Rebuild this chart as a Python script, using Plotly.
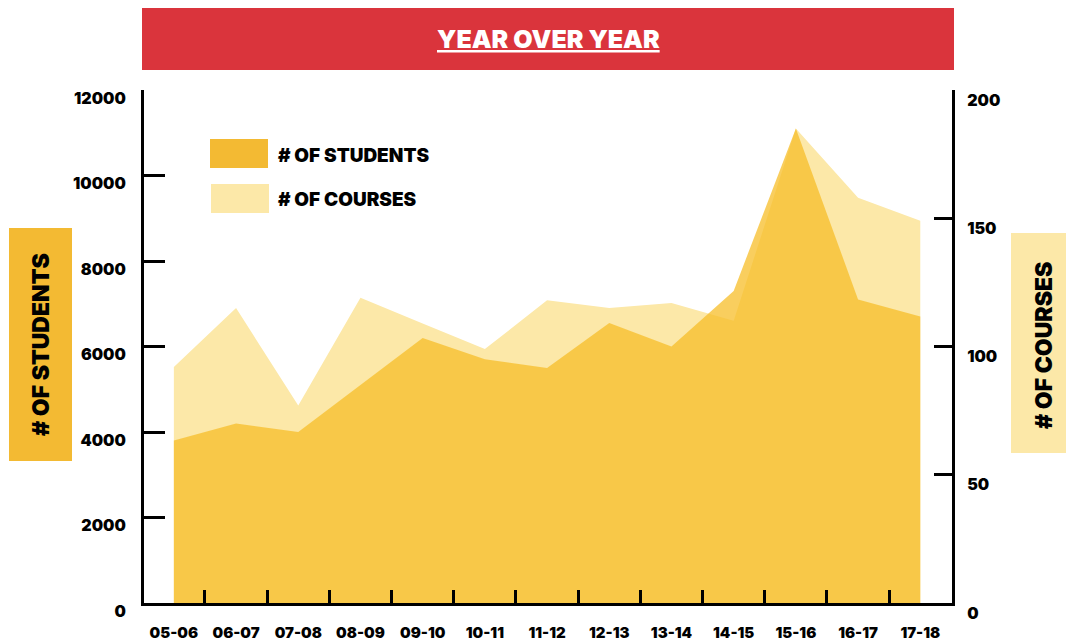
import plotly.graph_objects as go

years = ["05-06", "06-07", "07-08", "08-09", "09-10", "10-11", "11-12",
         "12-13", "13-14", "14-15", "15-16", "16-17", "17-18"]
students = [3800, 4200, 4000, 5100, 6200, 5700, 5500, 6550, 6000, 7300, 11100, 7100, 6700]
courses = [92, 115, 77, 119, 109, 99, 118, 115, 117, 110, 185, 158, 149]

student_tick_vals = [0, 2000, 4000, 6000, 8000, 10000, 12000]
course_tick_vals = [0, 50, 100, 150, 200]

STUD_COLOR = "#F3BA33"
COURSE_COLOR = "#FCE8A8"
RED = "#DA343C"
FONT = "Inter"
WT = 900

fig = go.Figure()

# courses on the base (right) axis, drawn underneath
fig.add_trace(go.Scatter(
    x=years, y=courses, yaxis="y", mode="lines", fill="tozeroy",
    fillcolor=COURSE_COLOR, line=dict(width=0, color=COURSE_COLOR),
    name="# OF COURSES", showlegend=False, hoverinfo="skip"))
# students on the overlaying (left) axis, drawn on top, translucent
fig.add_trace(go.Scatter(
    x=years, y=students, yaxis="y2", mode="lines", fill="tozeroy",
    fillcolor="rgba(247,190,40,0.75)", line=dict(width=0, color=STUD_COLOR),
    name="# OF STUDENTS", showlegend=False, hoverinfo="skip"))

tickfont = dict(family=FONT, size=16, color="black", weight=WT)
xtickfont = dict(family=FONT, size=15, color="black", weight=WT)

fig.update_layout(
    width=1066, height=642,
    margin=dict(l=144, r=114, t=90, b=39),
    paper_bgcolor="white", plot_bgcolor="white",
    showlegend=False,
    xaxis=dict(
        type="category", range=[-0.48, 12.51], automargin=False,
        showgrid=False, zeroline=False,
        showline=True, linewidth=3, linecolor="black",
        ticks="inside", ticklen=13, tickwidth=2.5, tickcolor="black",
        tickson="boundaries", tickfont=xtickfont, tickangle=0, ticklabelstandoff=14,
    ),
    yaxis=dict(
        range=[0, 200], tickvals=course_tick_vals, side="right", automargin=False,
        showgrid=False, zeroline=False,
        showline=True, linewidth=3, linecolor="black",
        ticks="inside", ticklen=18, tickwidth=3, tickcolor="black",
        tickfont=tickfont, ticklabelstandoff=9, ticklabelshift=10,
    ),
    yaxis2=dict(
        range=[0, 12000], tickvals=student_tick_vals, tickformat="d",
        overlaying="y", side="left", automargin=False,
        showgrid=False, zeroline=False,
        showline=True, linewidth=3, linecolor="black",
        ticks="inside", ticklen=21, tickwidth=3, tickcolor="black",
        tickfont=tickfont, ticklabelstandoff=12, ticklabelshift=8,
    ),
)

W, H = 808.0, 513.0
def px(x):
    return (x - 144) / W
def py(y):
    return (603 - y) / H

shapes = [
    dict(type="rect", xref="paper", yref="paper", x0=px(142), x1=px(954), y0=py(70), y1=py(8),
         fillcolor=RED, line=dict(width=0), layer="below"),
    dict(type="rect", xref="paper", yref="paper", x0=px(9), x1=px(72), y0=py(461), y1=py(228),
         fillcolor=STUD_COLOR, line=dict(width=0), layer="below"),
    dict(type="rect", xref="paper", yref="paper", x0=px(1011), x1=px(1066), y0=py(453), y1=py(233),
         fillcolor=COURSE_COLOR, line=dict(width=0), layer="below"),
    dict(type="rect", xref="paper", yref="paper", x0=px(210), x1=px(268), y0=py(168), y1=py(139),
         fillcolor=STUD_COLOR, line=dict(width=0), layer="above"),
    dict(type="rect", xref="paper", yref="paper", x0=px(211), x1=px(269), y0=py(213), y1=py(184),
         fillcolor=COURSE_COLOR, line=dict(width=0), layer="above"),
]
fig.update_layout(shapes=shapes)

ann = [
    dict(text="YEAR OVER YEAR", x=px(548), y=py(39), xref="paper", yref="paper",
         showarrow=False, xanchor="center", yanchor="middle",
         font=dict(family=FONT, size=25, color="white", weight=WT, lineposition="under")),
    dict(text="# OF STUDENTS", x=px(41), y=py(345), xref="paper", yref="paper",
         showarrow=False, textangle=-90, xanchor="center", yanchor="middle",
         font=dict(family=FONT, size=23, color="black", weight=WT)),
    dict(text="# OF COURSES", x=px(1044), y=py(346), xref="paper", yref="paper",
         showarrow=False, textangle=-90, xanchor="center", yanchor="middle",
         font=dict(family=FONT, size=23, color="black", weight=WT)),
    dict(text="# OF STUDENTS", x=px(276), y=py(155), xref="paper", yref="paper",
         showarrow=False, xanchor="left", yanchor="middle",
         font=dict(family=FONT, size=19, color="black", weight=WT)),
    dict(text="# OF COURSES", x=px(276), y=py(199), xref="paper", yref="paper",
         showarrow=False, xanchor="left", yanchor="middle",
         font=dict(family=FONT, size=19, color="black", weight=WT)),
]
fig.update_layout(annotations=ann)

fig.write_html("out.html", config={"displayModeBar": False},
               post_script="document.body.style.margin='0px';document.body.style.overflow='hidden';")
